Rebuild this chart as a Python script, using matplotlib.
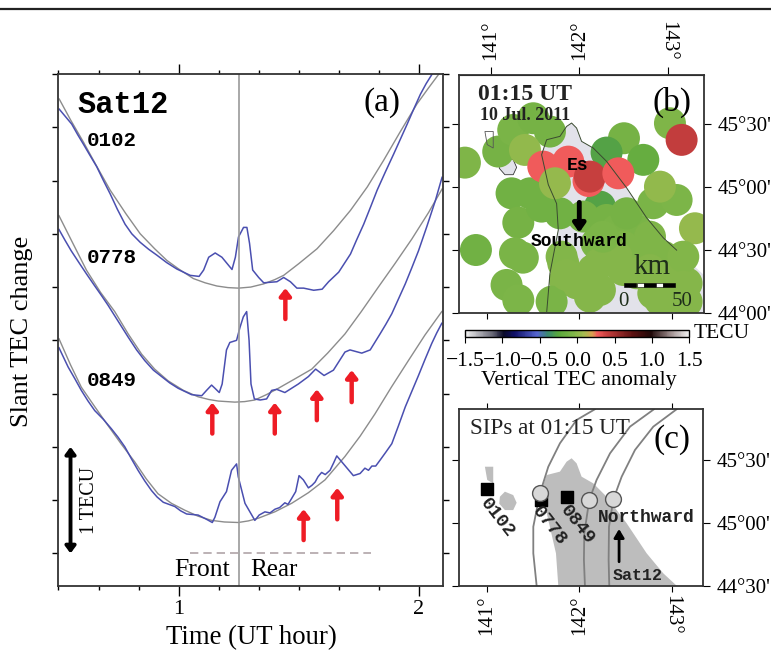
#!/usr/bin/env python3
import matplotlib
matplotlib.use("Agg")
import matplotlib.pyplot as plt
from matplotlib.colors import LinearSegmentedColormap
from matplotlib.patches import Polygon, Rectangle
from matplotlib.lines import Line2D

W, H = 771, 652
SERIF = "Liberation Serif"
MONO = "Liberation Mono"
BLUE = "#4a4fb0"
GRAY = "#8c8c8c"
RED = "#ee1c25"

# ---- panel (a) curves, time in UT hour, value in TECU
t_0102 = [.503, .555, .58, .604, .63, .659, .687, .715, .745, .777, .805, .840, .875, .909, .95, .992, 1.02, 1.048,
          1.085, 1.104, 1.125, 1.152, 1.180, 1.222, 1.236, 1.249, 1.270, 1.284, 1.295, 1.308, 1.333, 1.354, 1.409,
          1.437, 1.465, 1.492, 1.520, 1.562, 1.597, 1.624, 1.666, 1.715, 1.74, 1.770, 1.80, 1.826, 1.86, 1.895,
          1.923, 1.951, 1.98, 2.006, 2.03, 2.055]
v_0102 = [4.17, 4.03, 3.93, 3.84, 3.74, 3.63, 3.50, 3.375, 3.23, 3.09, 3.0, 2.92, 2.855, 2.80, 2.73, 2.67, 2.64, 2.61,
          2.60, 2.66, 2.78, 2.82, 2.78, 2.665, 2.78, 2.97, 3.06, 3.06, 2.91, 2.66, 2.59, 2.54, 2.55,
          2.59, 2.55, 2.49, 2.49, 2.47, 2.48, 2.55, 2.64, 2.81, 2.94, 3.09, 3.26, 3.41, 3.58, 3.75,
          3.89, 4.03, 4.18, 4.31, 4.41, 4.50]
fit_t_0102 = [.503, .55, .604, .66, .715, .78, .84, .90, .951, 1.0, 1.061, 1.11, 1.159, 1.205, 1.249, 1.30, 1.354,
              1.40, 1.437, 1.50, 1.576, 1.645, 1.715, 1.785, 1.853, 1.92, 1.992, 2.04, 2.083]
fit_v_0102 = [4.265, 4.07, 3.86, 3.63, 3.41, 3.19, 3.0, 2.86, 2.75, 2.67, 2.58, 2.54, 2.51, 2.495, 2.49, 2.50, 2.53,
              2.57, 2.61, 2.72, 2.86, 3.03, 3.22, 3.44, 3.69, 3.95, 4.22, 4.37, 4.5]

t_0778 = [.502, .527, .553, .585, .616, .648, .679, .706, .734, .762, .790, .825, .859, .895, .929, .963, .998, 1.026,
          1.054, 1.096, 1.116, 1.137, 1.151, 1.169, 1.181, 1.199, 1.213, 1.241, 1.255, 1.269, 1.283, 1.293, 1.301,
          1.315, 1.339, 1.366, 1.387, 1.408, 1.442, 1.498, 1.540, 1.570, 1.605, 1.644, 1.692, 1.713, 1.762, 1.797,
          1.838, 1.862, 1.887, 1.915, 1.943, 1.97, 1.998, 2.033, 2.068, 2.096]
v_0778 = [3.04, 2.94, 2.84, 2.73, 2.625, 2.52, 2.42, 2.33, 2.23, 2.13, 2.03, 1.91, 1.81, 1.72, 1.66, 1.60, 1.55, 1.52,
          1.49, 1.48, 1.53, 1.58, 1.55, 1.51, 1.59, 1.91, 1.98, 2.00, 2.12, 2.22, 2.27, 2.00, 1.59,
          1.45, 1.44, 1.45, 1.53, 1.54, 1.51, 1.59, 1.66, 1.73, 1.67, 1.72, 1.89, 1.91, 1.88, 1.91,
          2.06, 2.15, 2.25, 2.39, 2.53, 2.68, 2.84, 3.07, 3.31, 3.53]
fit_t_0778 = [.502, .56, .616, .675, .734, .79, .846, .90, .956, 1.02, 1.081, 1.125, 1.165, 1.234, 1.275, 1.317, 1.365,
              1.415, 1.485, 1.554, 1.62, 1.692, 1.76, 1.831, 1.90, 1.97, 2.04, 2.096]
fit_v_0778 = [3.17, 2.91, 2.66, 2.45, 2.27, 2.06, 1.87, 1.73, 1.62, 1.53, 1.47, 1.445, 1.43, 1.42, 1.425, 1.44, 1.49,
              1.55, 1.64, 1.73, 1.88, 2.06, 2.27, 2.50, 2.72, 2.95, 3.2, 3.42]

t_0849 = [.502, .540, .568, .595, .623, .651, .686, .720, .748, .776, .803, .831, .859, .887, .91, .936, .96, .984,
          1.008, 1.033, 1.057, 1.081, 1.116, 1.140, 1.151, 1.172, 1.199, 1.220, 1.241, 1.248, 1.276, 1.317, 1.335,
          1.359, 1.38, 1.401, 1.42, 1.442, 1.455, 1.470, 1.487, 1.501, 1.519, 1.540, 1.555, 1.568, 1.58, 1.595,
          1.61, 1.630, 1.645, 1.658, 1.686, 1.727, 1.755, 1.775, 1.79, 1.804, 1.82,
          1.838, 1.862, 1.887, 1.915, 1.943, 1.97, 1.998, 2.025, 2.053, 2.074, 2.095]
v_0849 = [1.93, 1.75, 1.64, 1.53, 1.43, 1.34, 1.26, 1.17, 1.09, 1.0, .89, .78, .68, .59, .53, .48, .46, .44,
          .40, .37, .365, .36, .32, .29, .34, .485, .58, .78, .84, .72, .47, .31, .36,
          .39, .38, .415, .43, .475, .46, .515, .58, .73, .69, .615, .64, .67, .72, .76,
          .74, .78, .85, .915, .84, .73, .75, .80, .78, .82, .82,
          .875, .95, 1.03, 1.2, 1.375, 1.52, 1.67, 1.82, 1.97, 2.07, 2.16]
fit_t_0849 = [.502, .55, .595, .65, .706, .76, .817, .865, .914, .97, 1.026, 1.08, 1.137, 1.19, 1.248, 1.29, 1.331,
              1.40, 1.47, 1.54, 1.609, 1.692, 1.755, 1.817, 1.885, 1.956, 2.025, 2.095]
fit_v_0849 = [2.015, 1.77, 1.56, 1.38, 1.20, 1.03, .86, .70, .56, .47, .405, .35, .31, .295, .29, .305, .33,
              .39, .47, .57, .69, .91, 1.10, 1.31, 1.56, 1.81, 2.05, 2.27]

# red arrows: time, tip, tail
arrow_t = [1.444, 1.14, 1.40, 1.575, 1.72, 1.52, 1.66]
arrow_tip = [2.49, 1.415, 1.415, 1.54, 1.72, .415, .615]
arrow_tail = [2.20, 1.125, 1.125, 1.25, 1.42, .125, .32]

# ---- panel (b) anomaly patches: lon, lat, TECU
patch_lon = [142.223, 142.043, 142.295, 142.404, 142.62, 142.187, 142.476, 142.692, 142.908, 142.223, 142.476,
             142.764, 143.052, 141.971, 142.223, 142.8, 142.98, 143.16, 143.16, 141.827, 141.845,
             140.764, 140.883, 141.124, 141.286, 141.503, 141.683, 141.413, 141.268, 141.467, 141.341, 141.593,
             141.791, 141.305, 141.39, 141.214, 141.341, 141.701, 141.809, 141.863, 142.151, 142.115, 142.404,
             142.259, 142.512, 142.764, 142.8, 143.052, 142.872, 143.25, 143.124, 143.124, 142.872,
             142.62, 142.98, 143.106, 142.483, 142.295, 142.692, 141.611, 141.881, 142.1, 142.115, 142.422, 141.737]
patch_lat = [44.846, 44.767, 44.74, 44.66, 44.66, 44.554, 44.528, 44.501, 44.448, 44.395, 44.342,
             44.342, 44.289, 44.236, 44.183, 44.156, 44.13, 44.236, 44.09, 44.395, 44.263,
             45.196, 44.501, 45.284, 45.456, 45.549, 45.443, 45.297, 44.952, 44.952, 44.719, 44.846,
             44.793, 44.475, 44.44, 44.223, 44.103, 44.090, 44.448, 44.302, 44.342, 44.130, 44.448,
             44.607, 44.793, 44.607, 44.873, 44.899, 45.005, 44.674, 44.448, 44.21, 44.103,
             44.316, 45.509, 45.377, 45.39, 45.276, 45.218, 45.164, 45.204, 45.05, 45.085, 45.111, 45.032]
patch_val = [-.28, -.1, -.1, -.08, -.08, -.06, -.05, -.05, -.05, -.03, -.03,
             -.03, -.03, -.03, -.03, -.03, -.03, -.03, -.03, -.03, -.03,
             -.05, -.12, -.1, -.08, -.1, -.1, .02, -.12, -.12, -.1, -.12,
             -.12, -.08, -.08, -.08, -.06, -.08, -.04, -.03, -.03, -.03, -.03,
             -.06, -.1, -.05, -.08, -.06, .02, .03, -.04, -.03, -.03,
             -.03, -.05, .42, -.1, -.28, -.18, .27, .27, .27, .40, .27, .03]

# coast outlines: lon, lat
hokkaido_lon = [141.647, 141.683, 141.773, 141.755, 141.665, 141.593, 141.647, 141.791, 141.863, 141.917, 141.971,
                142.025, 142.151, 142.295, 142.512, 142.728, 142.908, 143.052, 143.35, 143.35, 141.647]
hokkaido_lat = [44.0, 44.316, 44.66, 44.87, 45.021, 45.259, 45.378, 45.405, 45.484, 45.511, 45.471,
                45.365, 45.312, 45.206, 44.995, 44.757, 44.598, 44.5, 44.3, 44.0, 44.0]
rishiri_lon = [141.142, 141.196, 141.286, 141.323, 141.286, 141.196, 141.135]
rishiri_lat = [45.206, 45.246, 45.219, 45.158, 45.1, 45.1, 45.151]
rebun_lon = [140.98, 141.07, 141.07, 141.005]
rebun_lat = [45.444, 45.444, 45.312, 45.339]

# ---- panel (c) satellite tracks and stations
track1_lon = [142.169, 141.971, 141.791, 141.665, 141.575, 141.503, 141.503, 141.539]
track1_lat = [45.9, 45.815, 45.63, 45.444, 45.233, 44.968, 44.757, 44.5]
track2_lon = [142.807, 142.548, 142.332, 142.187, 142.108, 142.054, 142.05, 142.061]
track2_lat = [45.9, 45.762, 45.55, 45.339, 45.18, 44.915, 44.704, 44.5]
track3_lon = [143.052, 142.8, 142.602, 142.458, 142.368, 142.321, 142.317, 142.324]
track3_lat = [45.9, 45.762, 45.577, 45.365, 45.185, 44.968, 44.704, 44.5]
sip_lon = [141.575, 142.108, 142.368]
sip_lat = [45.233, 45.18, 45.185]
station_lon = [141.005, 141.582, 141.863]
station_lat = [45.265, 45.18, 45.206]
station_names = ["0102", "0778", "0849"]

cbar_ticks = [-1.5, -1.0, -0.5, 0.0, 0.5, 1.0, 1.5]
lat_labels_b = ["44°00'", "44°30'", "45°00'", "45°30'"]
lat_labels_c = ["44°30'", "45°00'", "45°30'"]

tec_cmap = LinearSegmentedColormap.from_list("tec", [
    (0.0, "#f2f2f2"), (0.12, "#6a6a78"), (0.17, "#0a0a28"), (0.22, "#101068"), (0.32, "#5565d0"),
    (0.37, "#3a8a70"), (0.417, "#5aa83c"), (0.48, "#7db548"), (0.53, "#a5bc50"), (0.567, "#d8a050"),
    (0.59, "#f25c5c"), (0.633, "#c8403f"), (0.75, "#5a1010"), (0.83, "#200808"), (0.92, "#a09090"), (1.0, "#f2f2f2")])


def px_axes(fig, left, top, right, bottom):
    return fig.add_axes([left / W, 1 - bottom / H, (right - left) / W, (bottom - top) / H])


def px_text(fig, x, y, s, **kw):
    kw.setdefault("ha", "center")
    kw.setdefault("va", "center")
    kw.setdefault("family", SERIF)
    return fig.text(x / W, 1 - y / H, s, **kw)


fig = plt.figure(figsize=(W / 100, H / 100), dpi=100)
fig.add_artist(Line2D([0, 1], [1 - 9 / H, 1 - 9 / H], color="#222222", lw=1.6))

# ---- panel (a)
ax = px_axes(fig, 58.5, 74, 443, 586)
ax.set_xlim(0.5, 2.1)
ax.set_ylim(-0.306, 4.5)
for fit_t, fit_v in [(fit_t_0102, fit_v_0102), (fit_t_0778, fit_v_0778), (fit_t_0849, fit_v_0849)]:
    ax.plot(fit_t, fit_v, color=GRAY, lw=1.0)
for t, v in [(t_0102, v_0102), (t_0778, v_0778), (t_0849, v_0849)]:
    ax.plot(t, v, color=BLUE, lw=1.1)
ax.axvline(1.25, color="#999999", lw=1.2)
ax.plot([1.048, 1.80], [0, 0], color="#b0a4a8", lw=1.2, dashes=(5, 3))
for t, tip, tail in zip(arrow_t, arrow_tip, arrow_tail):
    ax.annotate("", xy=(t, tip), xytext=(t, tail),
                arrowprops=dict(arrowstyle="-|>,head_width=0.33,head_length=0.42", color=RED, lw=3.2,
                                shrinkA=0, shrinkB=0))
ax.annotate("", xy=(0.55, 1.0), xytext=(0.55, 0.0),
            arrowprops=dict(arrowstyle="<|-|>,head_width=0.3,head_length=0.4", color="black", lw=2.8,
                            shrinkA=0, shrinkB=0))
ax.set_xticks([1, 2])
ax.set_xticks([0.5 + i / 6 for i in range(10)], minor=True)
ax.set_yticks([0.5 * i for i in range(10)])
ax.set_xticklabels(["1", "2"], family=SERIF, fontsize=16)
ax.set_yticklabels([])
ax.tick_params(axis="x", which="major", top=True, direction="out", length=7, width=1, pad=3)
ax.tick_params(axis="x", which="minor", top=True, direction="out", length=3, width=1)
ax.tick_params(axis="y", left=True, right=True, direction="out", length=4, width=1)
for s in ax.spines.values():
    s.set_linewidth(1.3)
    s.set_color("#333333")

px_text(fig, 123, 105, "Sat12", family=MONO, weight="bold", fontsize=22)
px_text(fig, 112, 140, "0102", family=MONO, weight="bold", fontsize=15)
px_text(fig, 112, 258, "0778", family=MONO, weight="bold", fontsize=15)
px_text(fig, 112, 381, "0849", family=MONO, weight="bold", fontsize=15)
px_text(fig, 382, 103, "(a)", fontsize=24)
px_text(fig, 202, 570, "Front", fontsize=18.5)
px_text(fig, 274, 570, "Rear", fontsize=18)
px_text(fig, 89, 500, "1 TECU", fontsize=14.5, rotation=90)
px_text(fig, 251, 638, "Time (UT hour)", fontsize=19.3)
px_text(fig, 22, 331, "Slant TEC change", fontsize=19, rotation=90)

# ---- panel (b)
axb = px_axes(fig, 459, 75, 704, 313)
axb.set_xlim(140.70, 143.348)
axb.set_ylim(44.0, 45.893)
axb.add_patch(Polygon(list(zip(hokkaido_lon, hokkaido_lat)), fc="#e2e2ea", ec="none", zorder=1))
axb.add_patch(Polygon(list(zip(rishiri_lon, rishiri_lat)), fc="#e2e2ea", ec="#333333", lw=0.6, zorder=1))
axb.add_patch(Polygon(list(zip(rebun_lon, rebun_lat)), fc="none", ec="#555555", lw=0.6, zorder=4))
axb.scatter(patch_lon, patch_lat, c=patch_val, s=530, cmap=tec_cmap, vmin=-1.5, vmax=1.5, linewidths=0, zorder=2)
axb.plot(hokkaido_lon[:-3], hokkaido_lat[:-3], color="#3a4a30", lw=0.7, zorder=4)
axb.set_xticks([141, 142, 143])
axb.set_xticklabels([])
axb.set_yticks([44.0, 44.5, 45.0, 45.5])
axb.set_yticklabels(lat_labels_b, family=SERIF, fontsize=15)
axb.tick_params(axis="y", left=True, right=True, labelleft=False, labelright=True, direction="out", length=5, pad=5)
axb.tick_params(axis="x", bottom=True, direction="out", length=4)
topb = axb.secondary_xaxis("top")
topb.set_xticks([141.045, 142.0, 142.96])
topb.set_xticklabels(["141°", "142°", "143°"], family=SERIF, fontsize=15, rotation=90)
topb.tick_params(direction="out", length=6, pad=4.5)
topb.get_xticklabels()[2].set_rotation(270)
for s in axb.spines.values():
    s.set_linewidth(1.3)
    s.set_color("#333333")
# scale bar
bar_lons = [142.48, 142.62, 142.70, 142.83, 142.90]
for i, lon in enumerate(bar_lons):
    w = [0.13, 0.08, 0.13, 0.07, 0.13][i]
    axb.add_patch(Rectangle((lon, 44.205), w, 0.03, fc="black" if i % 2 == 0 else "white", ec="black", lw=0.4, zorder=5))

px_text(fig, 525, 95, "01:15 UT", weight="bold", fontsize=17, color="#222222")
px_text(fig, 525, 115, "10 Jul. 2011", weight="bold", fontsize=13, color="#222222")
px_text(fig, 672, 102, "(b)", fontsize=24)
px_text(fig, 578, 165, "Es", family=MONO, weight="bold", fontsize=13)
px_text(fig, 579, 241, "Southward", family=MONO, weight="bold", fontsize=13)
axb.annotate("", xy=(142.0, 44.64), xytext=(142.0, 44.88),
             arrowprops=dict(arrowstyle="-|>,head_width=0.35,head_length=0.5", color="black", lw=3.5,
                             shrinkA=0, shrinkB=0), zorder=6)
px_text(fig, 652, 267, "km", fontsize=21, color="#1e2e1a")
px_text(fig, 623, 302, "0", fontsize=15, color="#1e2e1a")
px_text(fig, 682, 302, "50", fontsize=15, color="#1e2e1a")

# ---- colorbar
axc = px_axes(fig, 465, 330, 689.3, 336.7)
sm = plt.cm.ScalarMappable(cmap=tec_cmap, norm=plt.Normalize(-1.5, 1.5))
cb = fig.colorbar(sm, cax=axc, orientation="horizontal", ticks=cbar_ticks)
cb.ax.set_xticklabels(["−1.5", "−1.0", "−0.5", "0.0", "0.5", "1.0", "1.5"], family=SERIF, fontsize=15.5)
cb.ax.tick_params(direction="out", length=4, pad=7)
cb.outline.set_linewidth(1)
px_text(fig, 722, 333, "TECU", fontsize=15.5)
px_text(fig, 579, 381, "Vertical TEC anomaly", fontsize=15.8)

# ---- panel (c)
axs = px_axes(fig, 459, 409, 703, 585.7)
axs.set_xlim(140.70, 143.337)
axs.set_ylim(44.5, 45.902)
land_lon = [141.773, 141.748, 141.665, 141.593, 141.647, 141.791, 141.863, 141.917, 141.971, 142.025, 142.151,
            142.295, 142.512, 142.728, 142.908, 143.052]
land_lat = [44.5, 44.757, 45.021, 45.259, 45.378, 45.405, 45.484, 45.511, 45.471, 45.365, 45.312,
            45.206, 44.995, 44.757, 44.598, 44.5]
axs.add_patch(Polygon(list(zip(land_lon, land_lat)), fc="#bdbdbd", ec="none", zorder=1))
axs.add_patch(Polygon(list(zip(rishiri_lon, rishiri_lat)), fc="#bdbdbd", ec="none", zorder=1))
axs.add_patch(Polygon(list(zip(rebun_lon, rebun_lat)), fc="#bdbdbd", ec="none", zorder=1))
for lon, lat in [(track1_lon, track1_lat), (track2_lon, track2_lat), (track3_lon, track3_lat)]:
    axs.plot(lon, lat, color="#808080", lw=1.3, zorder=2)
axs.scatter(station_lon, station_lat, marker="s", s=75, color="black", zorder=3)
axs.scatter(sip_lon, sip_lat, s=130, fc="#d8d8d8", ec="#555555", lw=1.0, zorder=4)
axs.set_xticks([141, 142, 143])
axs.set_xticklabels(["141°", "142°", "143°"], family=SERIF, fontsize=15, rotation=90)
axs.get_xticklabels()[2].set_rotation(270)
axs.set_yticks([44.5, 45.0, 45.5])
axs.set_yticklabels(lat_labels_c, family=SERIF, fontsize=15)
axs.tick_params(axis="y", left=True, right=True, labelleft=False, labelright=True, direction="out", length=5, pad=5)
axs.tick_params(axis="x", top=True, bottom=True, direction="out", length=4, pad=3)
for s in axs.spines.values():
    s.set_linewidth(1.3)
    s.set_color("#333333")

px_text(fig, 550, 429, "SIPs at 01:15 UT", fontsize=16.7, color="#222222")
px_text(fig, 672, 440, "(c)", fontsize=24)
px_text(fig, 646, 518, "Northward", family=MONO, weight="bold", fontsize=13, color="#222222")
px_text(fig, 638, 575, "Sat12", family=MONO, weight="bold", fontsize=12, color="#222222")
axs.annotate("", xy=(142.43, 44.95), xytext=(142.43, 44.69),
             arrowprops=dict(arrowstyle="-|>,head_width=0.3,head_length=0.5", color="black", lw=2,
                             shrinkA=0, shrinkB=0), zorder=6)
for (x, y), name in zip([(497, 518), (549, 526), (577, 525)], station_names):
    px_text(fig, x, y, name, family=MONO, weight="bold", fontsize=13.5, rotation=-52, color="#222222")

fig.savefig("out.png", dpi=100)
plt.close(fig)
